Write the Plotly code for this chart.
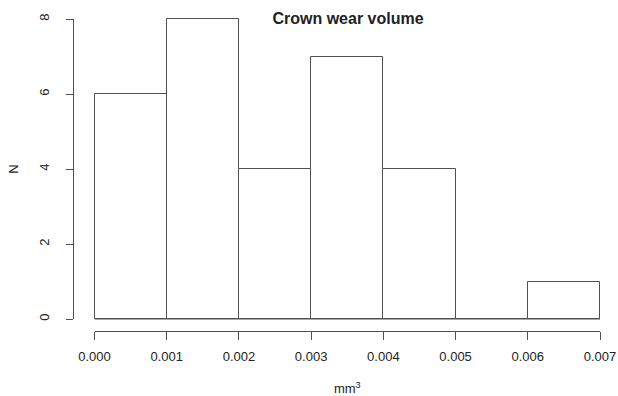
import plotly.graph_objects as go

bin_edges = [0.000, 0.001, 0.002, 0.003, 0.004, 0.005, 0.006, 0.007]
counts = [6, 8, 4, 7, 4, 0, 1]
x_ticks = [0.000, 0.001, 0.002, 0.003, 0.004, 0.005, 0.006, 0.007]
x_tick_labels = ["0.000", "0.001", "0.002", "0.003", "0.004", "0.005", "0.006", "0.007"]
y_ticks = [0, 2, 4, 6, 8]

centers = [(a + b) / 2 for a, b in zip(bin_edges[:-1], bin_edges[1:])]
widths = [b - a for a, b in zip(bin_edges[:-1], bin_edges[1:])]

W, H = 618, 396
L, R, T, B = 73, 0, 7, 65          # R-style plot region (axis lines on its left/bottom edges)
plot_w = W - L - R
plot_h = H - T - B
# pixel positions of the data extremes inside the plot region
x_lo_px, x_hi_px = 94.5, 600
y_lo_px, y_hi_px = 319, 19

xmin, xmax = bin_edges[0], bin_edges[-1]
ymin, ymax = y_ticks[0], y_ticks[-1]
x_per_px = (xmax - xmin) / (x_hi_px - x_lo_px)
y_per_px = (ymax - ymin) / (y_lo_px - y_hi_px)
x_range = [xmin - (x_lo_px - L) * x_per_px, xmax + (W - R - x_hi_px) * x_per_px]
y_range = [ymin - (T + plot_h - y_lo_px) * y_per_px, ymax + (y_hi_px - T) * y_per_px]

line_col = "#505050"
txt_col = "#222222"
font = "Liberation Sans, Arial, sans-serif"

fig = go.Figure()
fig.add_trace(go.Bar(
    x=centers, y=counts, width=widths,
    marker=dict(color="white", line=dict(color=line_col, width=1)),
    showlegend=False, hoverinfo="x+y",
))
# baseline along the empty bin
fig.add_trace(go.Scatter(
    x=[xmin, xmax], y=[0, 0], mode="lines",
    line=dict(color=line_col, width=1), showlegend=False, hoverinfo="skip",
))
# invisible trace that carries the R-style axes
fig.add_trace(go.Scatter(
    x=[xmin, xmax], y=[ymin, ymax], mode="markers", marker=dict(opacity=0),
    xaxis="x2", yaxis="y2", showlegend=False, hoverinfo="skip",
))

fig.update_layout(
    width=W, height=H,
    margin=dict(l=L, r=R, t=T, b=B, autoexpand=False),
    paper_bgcolor="white", plot_bgcolor="rgba(0,0,0,0)",
    font=dict(family=font, size=13, color=txt_col),
    title=dict(text="<b>Crown wear volume</b>", x=(348 - L) / plot_w, xref="paper",
               xanchor="center", y=1 - 18 / H, yref="container", yanchor="middle",
               font=dict(size=16, color=txt_col, family=font)),
    bargap=0,
    xaxis=dict(domain=[0, 1], range=x_range, visible=False, showgrid=False, zeroline=False),
    yaxis=dict(domain=[0, 1], range=y_range, visible=False, showgrid=False, zeroline=False),
    xaxis2=dict(
        domain=[(x_lo_px - L) / plot_w, (x_hi_px - L) / plot_w], range=[xmin, xmax],
        anchor="free", position=0,
        showgrid=False, zeroline=False, showline=True, linecolor=line_col, linewidth=1,
        ticks="outside", ticklen=8, tickcolor=line_col, tickwidth=1,
        tickvals=x_ticks, ticktext=x_tick_labels, ticklabelstandoff=5,
        tickfont=dict(size=13, color=txt_col),
        title=dict(text="mm<sup>3</sup>", standoff=21, font=dict(size=13, color=txt_col)),
    ),
    yaxis2=dict(
        domain=[(T + plot_h - y_lo_px) / plot_h, (T + plot_h - y_hi_px) / plot_h],
        range=[ymin, ymax],
        anchor="free", position=0,
        showgrid=False, zeroline=False, showline=True, linecolor=line_col, linewidth=1,
        ticks="outside", ticklen=7, tickcolor=line_col, tickwidth=1,
        tickvals=y_ticks, tickangle=-90, ticklabelstandoff=12,
        tickfont=dict(size=13, color=txt_col),
        title=dict(text="N", standoff=14, font=dict(size=13, color=txt_col)),
    ),
)

fig.write_html("out.html", config={"displayModeBar": False},
               post_script="document.body.style.margin='0';")
